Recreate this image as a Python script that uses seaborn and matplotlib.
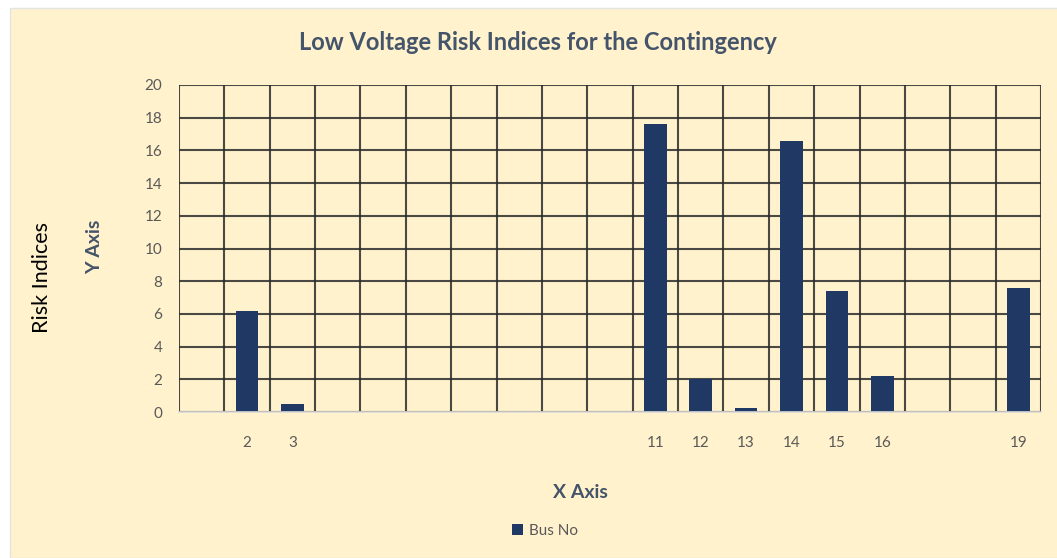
import pandas as pd
import matplotlib.pyplot as plt
import seaborn as sns
from matplotlib.patches import Rectangle

# bus numbers and low-voltage risk index per bus
bus_no = list(range(1, 20))
risk = [0, 6.2, 0.5, 0, 0, 0, 0, 0, 0, 0, 17.6, 2.0, 0.25, 16.6, 7.4, 2.2, 0, 0, 7.6]
tick_labels = ['', '2', '3', '', '', '', '', '', '', '', '11', '12', '13', '14', '15', '16', '', '', '19']

df = pd.DataFrame({'bus': bus_no, 'risk': risk})

sns.set_theme(style='white')
plt.rcParams['font.family'] = ['Lato', 'DejaVu Sans']

cream = '#FFF2CC'
navy = '#1F3864'
slate = '#44546A'
grey = '#595959'

fig = plt.figure(figsize=(10.57, 5.58), dpi=100)
fig.patch.set_facecolor('white')
fig.patches.append(Rectangle((10 / 1057, 0), 1, 1 - 8 / 558, transform=fig.transFigure,
                             facecolor=cream, edgecolor='#E4E4E4', linewidth=1, zorder=-1))

ax = fig.add_axes([179 / 1057, 1 - 412 / 558, 862 / 1057, 327 / 558])
ax.set_facecolor(cream)

sns.barplot(data=df, x='bus', y='risk', order=bus_no, color=navy, width=0.5,
            saturation=1, label='Bus No', ax=ax, zorder=3, linewidth=0)

ax.set_ylim(0, 20)
ax.set_xlim(-0.5, len(bus_no) - 0.5)
ax.set_yticks(range(0, 21, 2))
ax.set_xticks(range(len(bus_no)))
ax.set_xticklabels(tick_labels)
ax.set_xticks([i - 0.5 for i in range(len(bus_no) + 1)], minor=True)

ax.grid(True, axis='y', which='major', color='#2b2b2b', linewidth=1.5, alpha=0.85)
ax.grid(True, axis='x', which='minor', color='#2b2b2b', linewidth=1.5, alpha=0.85)
ax.grid(False, axis='x', which='major')
ax.tick_params(axis='both', which='both', length=0, labelsize=11, labelcolor=grey)
ax.tick_params(axis='x', pad=17)
ax.tick_params(axis='y', pad=12)

for s in ['top', 'right', 'left']:
    ax.spines[s].set_visible(False)
ax.spines['bottom'].set_color('#D9D9D9')
ax.spines['bottom'].set_linewidth(1.2)
ax.spines['bottom'].set_zorder(4)

ax.set_xlabel('')
ax.set_ylabel('')

fig.text(538 / 1057, 1 - 43 / 558, 'Low Voltage Risk Indices for the Contingency',
         ha='center', va='center', fontsize=17, fontweight='bold', color=slate)
fig.text(580 / 1057, 1 - 492 / 558, 'X Axis', ha='center', va='center',
         fontsize=14, fontweight='bold', color=slate)
fig.text(95 / 1057, 1 - 247 / 558, 'Y Axis', ha='center', va='center', rotation=90,
         fontsize=14, fontweight='bold', color=slate)
fig.text(42 / 1057, 1 - 277 / 558, 'Risk Indices', ha='center', va='center', rotation=90,
         fontsize=15.5, color='black')

leg = ax.legend(loc='center', bbox_to_anchor=(545 / 1057, 1 - 531 / 558),
                bbox_transform=fig.transFigure, frameon=False, fontsize=11,
                handlelength=0.7, handleheight=0.7, handletextpad=0.4)
for t in leg.get_texts():
    t.set_color(grey)

fig.savefig('out.png', dpi=100, facecolor=fig.get_facecolor())
